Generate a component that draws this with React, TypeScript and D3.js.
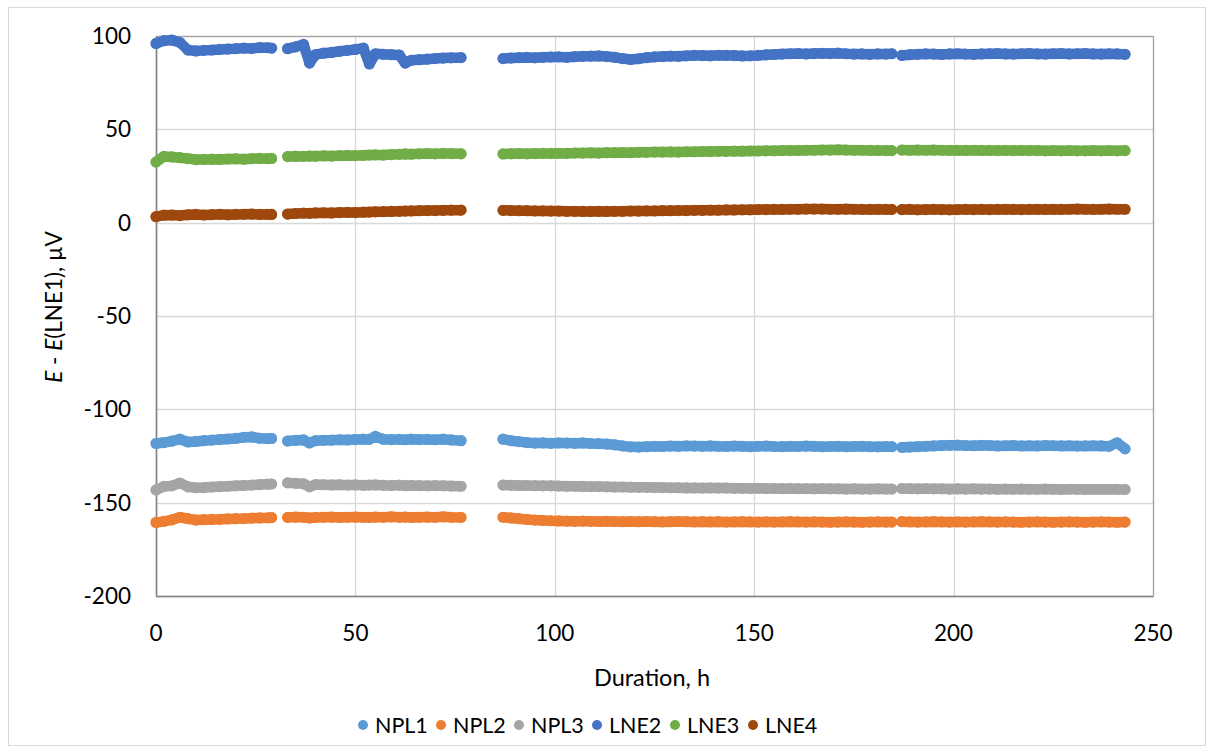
import React from "react";
import * as d3 from "d3";

// Time stamps (h) of the four measurement runs
const T1 = [0, 2, 4, 6, 8, 10, 12, 14, 16, 18, 20, 22, 24, 26, 28, 29];
const T2 = [33, 35, 37, 38.5, 40, 42, 44, 46, 48, 50, 52, 53.5, 55, 57, 59, 61, 62.5, 64, 66, 68, 70, 72, 74, 76.5];
const T3 = [87, 89, 91, 93, 95, 97, 99, 101, 103, 105, 107, 109, 111, 113, 115, 117, 119, 121, 123, 125, 127, 129, 131, 133, 135, 137, 139, 141, 143, 145, 147, 149, 151, 153, 155, 157, 159, 161, 163, 165, 167, 169, 171, 173, 175, 177, 179, 181, 183, 184.5];
const T4 = [187, 189, 191, 193, 195, 197, 199, 201, 203, 205, 207, 209, 211, 213, 215, 217, 219, 221, 223, 225, 227, 229, 231, 233, 235, 237, 239, 241, 243];

const NPL1 = [
  [-118.3, -117.8, -117.0, -116.0, -117.5, -117.2, -116.8, -116.5, -116.2, -115.9, -115.6, -115.0, -114.8, -115.5, -115.7, -115.6],
  [-117.0, -116.6, -116.4, -118.0, -116.8, -116.6, -116.5, -116.3, -116.4, -116.2, -116.0, -116.1, -114.5, -116.0, -116.2, -116.1, -116.3, -116.0, -116.2, -116.1, -116.3, -116.0, -116.4, -116.8],
  [-116.0, -116.8, -117.3, -117.8, -118.1, -118.0, -118.2, -118.0, -118.1, -118.2, -118.0, -118.3, -118.4, -118.6, -119.0, -119.6, -120.1, -120.2, -120.0, -119.8, -119.9, -119.7, -119.8, -119.6, -119.7, -119.8, -119.6, -119.8, -119.9, -119.7, -119.8, -120.0, -119.8, -119.7, -119.9, -120.0, -119.8, -119.9, -119.7, -119.8, -120.0, -119.9, -119.8, -120.0, -119.9, -119.8, -120.0, -120.1, -119.9, -120.0],
  [-120.4, -120.2, -120.0, -119.8, -119.6, -119.4, -119.3, -119.2, -119.4, -119.5, -119.3, -119.4, -119.6, -119.5, -119.4, -119.6, -119.5, -119.6, -119.4, -119.5, -119.6, -119.5, -119.7, -119.6, -119.5, -119.6, -119.8, -117.9, -121.2],
];
const NPL2 = [
  [-160.6, -160.0, -159.2, -157.8, -158.6, -159.3, -159.1, -159.0, -158.9, -158.7, -158.6, -158.5, -158.3, -158.2, -158.1, -158.0],
  [-157.9, -157.7, -157.8, -158.2, -157.9, -157.8, -157.7, -157.9, -157.8, -157.7, -157.8, -157.9, -157.7, -157.8, -157.6, -157.8, -157.7, -157.9, -157.8, -157.7, -157.8, -157.6, -157.8, -157.9],
  [-157.8, -158.2, -158.6, -159.0, -159.3, -159.5, -159.7, -159.8, -159.9, -160.0, -159.9, -160.0, -160.1, -160.0, -160.1, -160.2, -160.1, -160.2, -160.1, -160.2, -160.3, -160.2, -160.1, -160.2, -160.3, -160.2, -160.3, -160.2, -160.4, -160.3, -160.2, -160.3, -160.4, -160.3, -160.4, -160.3, -160.2, -160.3, -160.4, -160.3, -160.4, -160.5, -160.4, -160.3, -160.4, -160.5, -160.4, -160.3, -160.4, -160.4],
  [-160.2, -160.3, -160.4, -160.3, -160.2, -160.3, -160.4, -160.3, -160.4, -160.3, -160.2, -160.3, -160.4, -160.3, -160.4, -160.5, -160.4, -160.3, -160.4, -160.5, -160.4, -160.3, -160.4, -160.5, -160.4, -160.3, -160.4, -160.5, -160.4],
];
const NPL3 = [
  [-143.2, -141.3, -141.0, -139.5, -141.5, -142.0, -141.9, -141.6, -141.4, -141.2, -141.0, -140.8, -140.6, -140.3, -140.1, -140.0],
  [-139.4, -139.6, -139.9, -141.5, -140.3, -140.4, -140.5, -140.4, -140.6, -140.5, -140.7, -140.6, -140.5, -140.7, -140.8, -140.6, -140.9, -140.8, -140.9, -141.0, -140.9, -141.0, -141.1, -141.2],
  [-140.6, -140.7, -140.8, -140.8, -140.9, -141.0, -141.0, -141.1, -141.2, -141.2, -141.3, -141.4, -141.4, -141.5, -141.6, -141.6, -141.7, -141.8, -141.8, -141.9, -141.9, -142.0, -142.0, -142.1, -142.1, -142.2, -142.1, -142.2, -142.2, -142.3, -142.3, -142.4, -142.3, -142.4, -142.4, -142.5, -142.4, -142.5, -142.5, -142.6, -142.5, -142.6, -142.6, -142.7, -142.6, -142.7, -142.7, -142.6, -142.7, -142.7],
  [-142.4, -142.5, -142.6, -142.5, -142.6, -142.6, -142.7, -142.6, -142.7, -142.6, -142.7, -142.7, -142.8, -142.7, -142.8, -142.7, -142.8, -142.8, -142.7, -142.8, -142.9, -142.8, -142.8, -142.9, -142.8, -142.9, -142.8, -142.9, -142.9],
];
const LNE2 = [
  [96.0, 97.5, 97.8, 96.5, 92.5, 92.0, 92.3, 92.5, 92.8, 93.0, 93.2, 93.5, 93.3, 93.8, 93.7, 93.5],
  [93.2, 94.2, 95.5, 85.5, 90.0, 90.8, 91.2, 91.8, 92.3, 92.8, 93.5, 85.0, 90.5, 90.2, 90.0, 89.8, 85.5, 87.0, 87.3, 87.6, 87.9, 88.2, 88.3, 88.4],
  [87.9, 88.2, 88.4, 88.5, 88.3, 88.6, 88.7, 88.8, 88.6, 88.9, 89.1, 89.2, 89.3, 89.0, 88.6, 87.9, 87.4, 87.8, 88.4, 88.8, 89.0, 89.2, 89.1, 89.4, 89.6, 89.5, 89.4, 89.7, 89.6, 89.5, 89.3, 89.4, 89.6, 89.9, 90.1, 90.3, 90.5, 90.6, 90.4, 90.6, 90.7, 90.6, 90.8, 90.5, 90.3, 90.4, 90.2, 90.4, 90.3, 90.5],
  [89.6, 90.0, 90.2, 90.4, 90.3, 90.1, 90.4, 90.5, 90.3, 90.2, 90.4, 90.5, 90.6, 90.4, 90.3, 90.5, 90.6, 90.4, 90.3, 90.5, 90.6, 90.4, 90.5, 90.6, 90.4, 90.3, 90.5, 90.4, 90.2],
];
const LNE3 = [
  [32.5, 35.5, 35.2, 34.8, 34.3, 33.8, 33.9, 34.0, 33.9, 34.1, 34.2, 34.0, 34.3, 34.4, 34.3, 34.4],
  [35.4, 35.6, 35.5, 35.7, 35.6, 35.8, 35.7, 35.9, 36.0, 35.9, 36.1, 36.2, 36.3, 36.2, 36.5, 36.6, 36.8, 36.7, 36.9, 37.0, 36.9, 37.1, 37.0, 36.9],
  [36.8, 36.9, 37.0, 36.9, 37.0, 37.1, 37.1, 37.2, 37.1, 37.3, 37.3, 37.4, 37.3, 37.5, 37.5, 37.6, 37.5, 37.7, 37.7, 37.8, 37.8, 37.9, 37.8, 38.0, 38.0, 38.1, 38.1, 38.2, 38.2, 38.3, 38.3, 38.4, 38.4, 38.5, 38.5, 38.6, 38.6, 38.7, 38.8, 38.8, 38.9, 38.9, 39.0, 38.9, 38.8, 38.8, 38.7, 38.7, 38.6, 38.6],
  [38.9, 38.8, 38.9, 38.8, 38.9, 38.8, 38.7, 38.8, 38.7, 38.8, 38.7, 38.7, 38.6, 38.7, 38.6, 38.7, 38.6, 38.6, 38.5, 38.6, 38.5, 38.6, 38.5, 38.5, 38.6, 38.5, 38.6, 38.5, 38.6],
];
const LNE4 = [
  [3.2, 4.0, 4.1, 3.8, 4.2, 4.4, 4.1, 4.3, 4.5, 4.2, 4.4, 4.5, 4.6, 4.4, 4.5, 4.4],
  [4.6, 4.9, 5.1, 5.0, 5.2, 5.3, 5.2, 5.4, 5.5, 5.4, 5.6, 5.7, 5.8, 5.9, 6.0, 6.1, 6.2, 6.3, 6.4, 6.5, 6.5, 6.6, 6.7, 6.7],
  [6.6, 6.5, 6.4, 6.4, 6.3, 6.3, 6.2, 6.2, 6.1, 6.1, 6.0, 6.0, 6.1, 6.0, 6.1, 6.1, 6.2, 6.2, 6.3, 6.3, 6.4, 6.4, 6.5, 6.5, 6.6, 6.6, 6.7, 6.7, 6.8, 6.8, 6.9, 6.9, 7.0, 7.0, 7.1, 7.1, 7.2, 7.2, 7.3, 7.3, 7.3, 7.2, 7.2, 7.3, 7.2, 7.1, 7.1, 7.2, 7.1, 7.1],
  [7.0, 7.1, 6.9, 7.0, 7.1, 7.0, 6.9, 7.0, 7.1, 7.0, 7.1, 7.0, 7.1, 7.2, 7.1, 7.0, 7.1, 7.2, 7.1, 7.2, 7.1, 7.2, 7.3, 7.2, 7.1, 7.2, 7.3, 7.2, 7.2],
];

const SERIES_NAMES = ["NPL1", "NPL2", "NPL3", "LNE2", "LNE3", "LNE4"];
const SERIES_VALUES = [NPL1, NPL2, NPL3, LNE2, LNE3, LNE4];
const SERIES_COLORS = ["#5B9BD5", "#ED7D31", "#A5A5A5", "#4472C4", "#70AD47", "#9E480E"];
const TIMES = [T1, T2, T3, T4];
const X_TICKS = [0, 50, 100, 150, 200, 250];
const Y_TICKS = [-200, -150, -100, -50, 0, 50, 100];

const W = 1214;
const H = 753;
const FONT = "Lato, 'Open Sans', sans-serif";

export default function App() {
  const x = d3.scaleLinear().domain([0, 250]).range([156, 1153]);
  const y = d3.scaleLinear().domain([-200, 100]).range([596, 36]);
  const line = d3
    .line<[number, number]>()
    .x((d) => x(d[0]))
    .y((d) => y(d[1]));

  const legendX0 = 363;
  const legendStep = 78;
  const legendY = 725;

  return (
    <svg
      width={W}
      height={H}
      style={{ position: "absolute", left: 0, top: 0, background: "#fff" }}
      fontFamily={FONT}
    >
      <rect x={0} y={0} width={W} height={H} fill="#fff" />
      <rect x={8.5} y={7.5} width={1197} height={738} fill="none" stroke="#d9d9d9" strokeWidth={1} />

      {/* gridlines */}
      {Y_TICKS.map((t) => (
        <line key={"gy" + t} x1={x(0)} x2={x(250)} y1={Math.round(y(t)) + 0.5} y2={Math.round(y(t)) + 0.5} stroke="#d9d9d9" strokeWidth={1.3} />
      ))}
      {X_TICKS.map((t) => (
        <line key={"gx" + t} x1={Math.round(x(t)) + 0.5} x2={Math.round(x(t)) + 0.5} y1={y(100)} y2={y(-200)} stroke="#d9d9d9" strokeWidth={1.3} />
      ))}
      {/* plot border */}
      <rect x={x(0) + 0.5} y={Math.round(y(100)) + 0.5} width={x(250) - x(0)} height={y(-200) - y(100)} fill="none" stroke="#a6a6a6" strokeWidth={1.3} />
      <line x1={Math.round(x(0)) + 0.5} x2={Math.round(x(0)) + 0.5} y1={y(100)} y2={y(-200)} stroke="#868686" strokeWidth={1.5} />
      <line x1={x(0)} x2={x(250)} y1={Math.round(y(-200)) + 0.5} y2={Math.round(y(-200)) + 0.5} stroke="#868686" strokeWidth={1.5} />

      {/* series */}
      {SERIES_VALUES.map((segs, si) => (
        <g key={SERIES_NAMES[si]}>
          {segs.map((vals, k) => {
            const pts: [number, number][] = vals.map((v, i) => [TIMES[k][i], v]);
            return (
              <g key={k}>
                <path d={line(pts) || ""} fill="none" stroke={SERIES_COLORS[si]} strokeWidth={10.5} strokeLinecap="round" strokeLinejoin="round" />
                {pts.map((p, i) => (
                  <circle key={i} cx={x(p[0])} cy={y(p[1])} r={5.6} fill={SERIES_COLORS[si]} />
                ))}
              </g>
            );
          })}
        </g>
      ))}

      {/* y tick labels */}
      {Y_TICKS.map((t) => (
        <text key={"ty" + t} x={131} y={y(t)} dy="0.36em" textAnchor="end" fontSize={22.5} fill="#000">
          {t}
        </text>
      ))}
      {/* x tick labels */}
      {X_TICKS.map((t) => (
        <text key={"tx" + t} x={x(t)} y={641} textAnchor="middle" fontSize={22.5} fill="#000">
          {t}
        </text>
      ))}

      {/* axis titles */}
      <text x={652} y={686} textAnchor="middle" fontSize={23.5} fill="#000">
        Duration, h
      </text>
      <text transform={`translate(62,307) rotate(-90)`} textAnchor="middle" fontSize={22.5} fill="#000">
        <tspan fontStyle="italic">E</tspan>
        <tspan> - </tspan>
        <tspan fontStyle="italic">E</tspan>
        <tspan>(LNE1), µV</tspan>
      </text>

      {/* legend */}
      {SERIES_NAMES.map((n, i) => (
        <g key={"lg" + n} transform={`translate(${legendX0 + i * legendStep},${legendY})`}>
          <circle cx={0} cy={0} r={5} fill={SERIES_COLORS[i]} />
          <text x={12} y={0} dy="0.36em" fontSize={21.5} fill="#000">
            {n}
          </text>
        </g>
      ))}
    </svg>
  );
}
